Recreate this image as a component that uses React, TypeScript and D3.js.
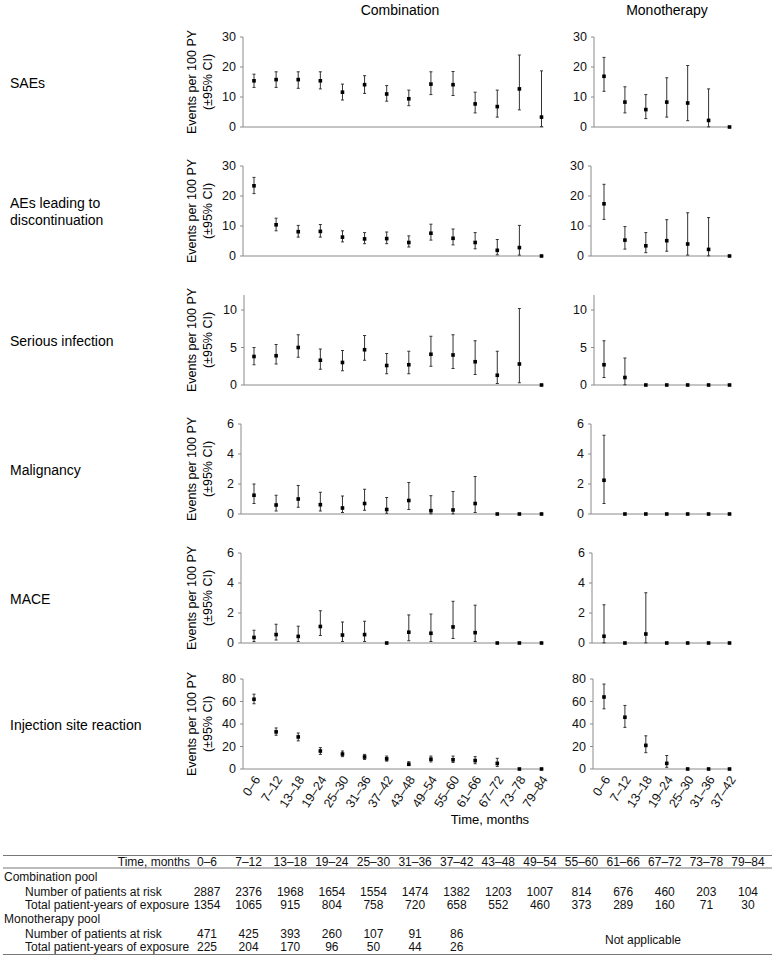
import * as d3 from "d3";

// categories
const comboCats = ["0–6", "7–12", "13–18", "19–24", "25–30", "31–36", "37–42", "43–48", "49–54", "55–60", "61–66", "67–72", "73–78", "79–84"];
const monoCats = ["0–6", "7–12", "13–18", "19–24", "25–30", "31–36", "37–42"];

// [estimate, lower, upper] events per 100 PY
const saesCombo = [[15.4, 13.2, 17.6], [15.8, 13.2, 18.4], [15.8, 12.9, 18.4], [15.4, 12.7, 18.4], [11.6, 9.0, 14.3], [14.1, 11.2, 17.1], [11.0, 8.6, 13.8], [9.4, 7.1, 12.3], [14.3, 10.8, 18.4], [14.1, 10.5, 18.5], [7.7, 4.7, 11.6], [6.8, 3.3, 12.3], [12.7, 5.7, 24.0], [3.3, 0.1, 18.7]];
const saesMono = [[16.9, 11.9, 23.2], [8.3, 4.7, 13.4], [5.8, 2.8, 10.8], [8.3, 3.3, 16.4], [8.0, 2.1, 20.5], [2.2, 0.05, 12.7], [0, 0, 0]];

const discCombo = [[23.4, 20.8, 26.2], [10.4, 8.4, 12.6], [8.1, 6.3, 10.2], [8.2, 6.3, 10.5], [6.3, 4.7, 8.4], [5.7, 4.1, 7.8], [5.8, 4.1, 8.0], [4.5, 3.0, 6.7], [7.6, 5.3, 10.6], [5.9, 3.7, 9.0], [4.5, 2.4, 7.8], [1.9, 0.4, 5.5], [2.8, 0.3, 10.2], [0, 0, 0]];
const discMono = [[17.4, 12.2, 23.9], [5.3, 2.3, 9.8], [3.4, 1.1, 7.8], [5.1, 1.6, 12.1], [4.0, 0.3, 14.4], [2.2, 0.05, 12.8], [0, 0, 0]];

const infCombo = [[3.8, 2.7, 5.0], [3.9, 2.8, 5.4], [5.0, 3.7, 6.7], [3.3, 2.1, 4.8], [3.0, 1.9, 4.6], [4.7, 3.3, 6.6], [2.6, 1.5, 4.2], [2.7, 1.5, 4.5], [4.1, 2.5, 6.5], [4.0, 2.2, 6.7], [3.1, 1.4, 5.9], [1.3, 0.2, 4.5], [2.8, 0.3, 10.2], [0, 0, 0]];
const infMono = [[2.7, 1.0, 5.9], [1.0, 0.03, 3.6], [0, 0, 0], [0, 0, 0], [0, 0, 0], [0, 0, 0], [0, 0, 0]];

const malCombo = [[1.25, 0.7, 2.0], [0.6, 0.2, 1.25], [1.0, 0.45, 1.9], [0.62, 0.2, 1.45], [0.4, 0.1, 1.2], [0.7, 0.25, 1.65], [0.3, 0.05, 1.1], [0.9, 0.3, 2.1], [0.22, 0.01, 1.22], [0.27, 0.01, 1.5], [0.7, 0.1, 2.5], [0, 0, 0], [0, 0, 0], [0, 0, 0]];
const malMono = [[2.25, 0.7, 5.25], [0, 0, 0], [0, 0, 0], [0, 0, 0], [0, 0, 0], [0, 0, 0], [0, 0, 0]];

const maceCombo = [[0.37, 0.1, 0.85], [0.56, 0.2, 1.25], [0.44, 0.1, 1.12], [1.1, 0.5, 2.15], [0.53, 0.1, 1.4], [0.56, 0.1, 1.45], [0, 0, 0], [0.72, 0.15, 1.87], [0.65, 0.1, 1.93], [1.07, 0.3, 2.78], [0.69, 0.1, 2.52], [0, 0, 0], [0, 0, 0], [0, 0, 0]];
const maceMono = [[0.45, 0.01, 2.55], [0, 0, 0], [0.6, 0.01, 3.35], [0, 0, 0], [0, 0, 0], [0, 0, 0], [0, 0, 0]];

const isrCombo = [[62, 58, 66.5], [33, 30, 36.5], [28.5, 25, 32], [16, 13, 19], [13.3, 11, 16], [10.7, 8.5, 13], [9, 7, 11.5], [4.3, 3, 6.5], [8.7, 6.3, 11.5], [8.2, 5.8, 11.5], [7.5, 4.7, 11], [5.0, 2.3, 9.5], [0, 0, 0], [0, 0, 0]];
const isrMono = [[64, 53.5, 75.5], [46, 37, 56.5], [21, 14.5, 29.5], [5, 1.5, 12], [0, 0, 0], [0, 0, 0], [0, 0, 0]];

const rowLabels = [["SAEs"], ["AEs leading to", "discontinuation"], ["Serious infection"], ["Malignancy"], ["MACE"], ["Injection site reaction"]];
const yMax = [30, 30, 12, 6, 6, 80];
const yTicks = [[0, 10, 20, 30], [0, 10, 20, 30], [0, 5, 10], [0, 2, 4, 6], [0, 2, 4, 6], [0, 20, 40, 60, 80]];

// table
const comboAtRisk = [2887, 2376, 1968, 1654, 1554, 1474, 1382, 1203, 1007, 814, 676, 460, 203, 104];
const comboPY = [1354, 1065, 915, 804, 758, 720, 658, 552, 460, 373, 289, 160, 71, 30];
const monoAtRisk = [471, 425, 393, 260, 107, 91, 86];
const monoPY = [225, 204, 170, 96, 50, 44, 26];

const comboRows = [saesCombo, discCombo, infCombo, malCombo, maceCombo, isrCombo];
const monoRows = [saesMono, discMono, infMono, malMono, maceMono, isrMono];

const W = 777;
const H = 960;
const rowTop = [37, 166, 295, 424, 553, 679];
const plotH = 90;
const comboAxisX = [243, 243, 244, 241, 241, 243];
const monoAxisX = [594, 591, 594, 591, 592, 593];
const FONT = "Liberation Sans, Arial, sans-serif";
const AXIS = "#8a8a8a";

function Panel({ axisX, xFirst, xLast, cats, data, top, max, ticks }: any) {
  const x = d3.scalePoint<string>().domain(cats).range([xFirst, xLast]);
  const y = d3.scaleLinear().domain([0, max]).range([top + plotH, top]);
  const base = y(0);
  return (
    <g>
      <line x1={axisX} x2={axisX} y1={top} y2={base} stroke={AXIS} strokeWidth={1} />
      <line x1={axisX} x2={xLast + 2} y1={base} y2={base} stroke={AXIS} strokeWidth={1} />
      {ticks.map((t: number) => (
        <g key={t}>
          <line x1={axisX - 3} x2={axisX} y1={y(t)} y2={y(t)} stroke={AXIS} />
          <text x={axisX - 7} y={y(t)} dy="0.35em" textAnchor="end" fontSize={12.5} fontFamily={FONT} fill="#111">{t}</text>
        </g>
      ))}
      {data.map((d: number[], i: number) => {
        const cx = x(cats[i]) as number;
        return (
          <g key={i}>
            {d[2] > d[1] && (
              <g stroke="#333" strokeWidth={1}>
                <line x1={cx} x2={cx} y1={y(d[1])} y2={y(d[2])} />
                <line x1={cx - 1.5} x2={cx + 1.5} y1={y(d[1])} y2={y(d[1])} />
                <line x1={cx - 1.5} x2={cx + 1.5} y1={y(d[2])} y2={y(d[2])} />
              </g>
            )}
            <rect x={cx - 1.8} y={y(d[0]) - 1.8} width={3.6} height={3.6} fill="#000" />
          </g>
        );
      })}
    </g>
  );
}

function XLabels({ cats, xFirst, xLast, base }: any) {
  const x = d3.scalePoint<string>().domain(cats).range([xFirst, xLast]);
  return (
    <g>
      {cats.map((c: string) => (
        <text key={c} transform={`translate(${(x(c) as number) + 3},${base + 8}) rotate(-57)`} textAnchor="end" dy="0.35em" fontSize={12.5} fontFamily={FONT} fill="#111">{c}</text>
      ))}
    </g>
  );
}

export default function App() {
  const comboFirst = 254;
  const comboLast = 541.5;
  const monoFirst = 604;
  const monoLast = 729.5;
  const lastBase = rowTop[5] + plotH;

  const colX = d3.scalePoint<string>().domain(comboCats).range([207, 748]);
  const tableRows = [
    { label: "Combination pool", indent: false, values: null as number[] | null, y: 881 },
    { label: "Number of patients at risk", indent: true, values: comboAtRisk, y: 895.5 },
    { label: "Total patient-years of exposure", indent: true, values: comboPY, y: 909 },
    { label: "Monotherapy pool", indent: false, values: null, y: 923 },
    { label: "Number of patients at risk", indent: true, values: monoAtRisk, y: 938 },
    { label: "Total patient-years of exposure", indent: true, values: monoPY, y: 951 },
  ];

  return (
    <svg width={W} height={H} style={{ position: "absolute", left: 0, top: 0, display: "block", background: "#fff" }}>
      <rect width={W} height={H} fill="#fff" />
      <text x={400} y={15} textAnchor="middle" fontSize={14} fontFamily={FONT}>Combination</text>
      <text x={667} y={15} textAnchor="middle" fontSize={14} fontFamily={FONT}>Monotherapy</text>

      {rowLabels.map((lines, r) => {
        const cy = rowTop[r] + plotH / 2 + 1;
        return (
          <g key={r}>
            {lines.map((l, j) => (
              <text key={j} x={10} y={cy + (j - (lines.length - 1) / 2) * 17} dy="0.35em" fontSize={14} fontFamily={FONT}>{l}</text>
            ))}
            <text transform={`translate(192,${rowTop[r] + plotH / 2}) rotate(-90)`} textAnchor="middle" dy="0.35em" fontSize={12.5} fontFamily={FONT}>Events per 100 PY</text>
            <text transform={`translate(208,${rowTop[r] + plotH / 2}) rotate(-90)`} textAnchor="middle" dy="0.35em" fontSize={12.5} fontFamily={FONT}>(±95% CI)</text>
            <Panel axisX={comboAxisX[r]} xFirst={comboFirst} xLast={comboLast} cats={comboCats} data={comboRows[r]} top={rowTop[r]} max={yMax[r]} ticks={yTicks[r]} />
            <Panel axisX={monoAxisX[r]} xFirst={monoFirst} xLast={monoLast} cats={monoCats} data={monoRows[r]} top={rowTop[r]} max={yMax[r]} ticks={yTicks[r]} />
          </g>
        );
      })}

      <XLabels cats={comboCats} xFirst={comboFirst} xLast={comboLast} base={lastBase} />
      <XLabels cats={monoCats} xFirst={monoFirst} xLast={monoLast} base={lastBase} />
      <text x={490} y={824} textAnchor="middle" fontSize={13} fontFamily={FONT}>Time, months</text>

      {/* table */}
      <g fontFamily={FONT} fontSize={12} fill="#111">
        <line x1={3} x2={772} y1={855.5} y2={855.5} stroke="#777" />
        <line x1={3} x2={772} y1={868} y2={868} stroke="#777" />
        <line x1={3} x2={772} y1={954.5} y2={954.5} stroke="#777" />
        <text x={190} y={866}>
          <tspan textAnchor="end">Time, months</tspan>
        </text>
        {comboCats.map((c) => (
          <text key={c} x={colX(c)} y={866} textAnchor="middle">{c}</text>
        ))}
        {tableRows.map((row, i) => (
          <g key={i}>
            <text x={row.indent ? 25 : 4} y={row.y}>{row.label}</text>
            {row.values && row.values.map((v, j) => (
              <text key={j} x={colX(comboCats[j])} y={row.y} textAnchor="middle">{v}</text>
            ))}
          </g>
        ))}
        <text x={643} y={944} textAnchor="middle">Not applicable</text>
      </g>
    </svg>
  );
}
